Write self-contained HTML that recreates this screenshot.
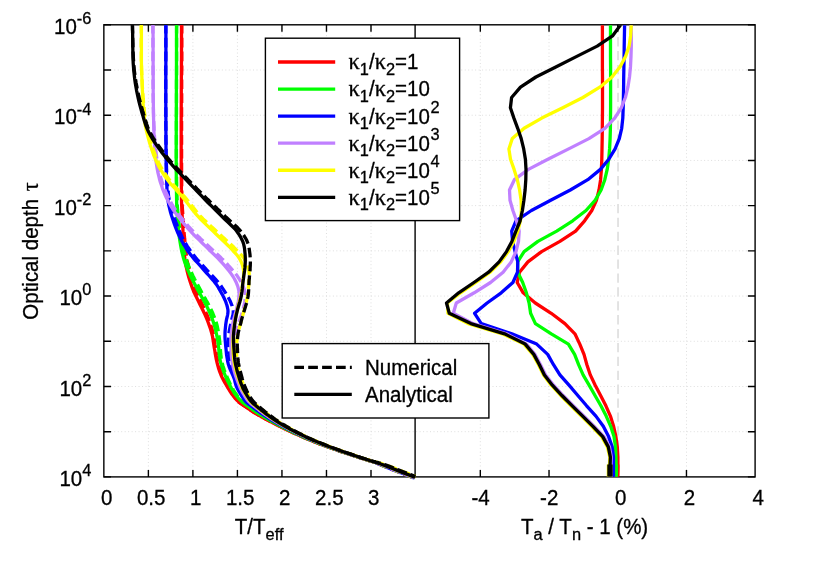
<!DOCTYPE html>
<html lang="en"><head><meta charset="utf-8"><title>Temperature profiles</title>
<style>html,body{margin:0;padding:0;background:#fff;}svg{display:block;font-family:"Liberation Sans",sans-serif;will-change:transform;}text{font-family:"Liberation Sans",sans-serif;font-size:20.5px;fill:#000;stroke:#000;stroke-width:0.3px;}.sy{font-family:"Liberation Serif",serif;font-size:22.3px;}.s{font-size:16.4px;}</style></head><body>
<svg width="830" height="581" viewBox="0 0 830 581">
<rect x="0" y="0" width="830" height="581" fill="#ffffff"/>
<path d="M103.85,70.01 H755.1 M103.85,115.22 H755.1 M103.85,160.43 H755.1 M103.85,205.64 H755.1 M103.85,250.85 H755.1 M103.85,296.06 H755.1 M103.85,341.27 H755.1 M103.85,386.48 H755.1 M103.85,431.69 H755.1 M148.38,24.8 V476.9 M192.90,24.8 V476.9 M237.42,24.8 V476.9 M281.95,24.8 V476.9 M326.48,24.8 V476.9 M371.00,24.8 V476.9 M480.31,24.8 V476.9 M549.03,24.8 V476.9 M686.47,24.8 V476.9" fill="none" stroke="#dedede" stroke-width="1" stroke-dasharray="1 2.47"/>
<path d="M618.05,24.8 V476.9" fill="none" stroke="#e2e2e2" stroke-width="1.9" stroke-dasharray="9.3 4.6" stroke-dashoffset="1.6"/>
<path d="M103.85,24.80 h7.2 M755.1,24.80 h-7.2 M103.85,70.01 h7.2 M755.1,70.01 h-7.2 M103.85,115.22 h7.2 M755.1,115.22 h-7.2 M103.85,160.43 h7.2 M755.1,160.43 h-7.2 M103.85,205.64 h7.2 M755.1,205.64 h-7.2 M103.85,250.85 h7.2 M755.1,250.85 h-7.2 M103.85,296.06 h7.2 M755.1,296.06 h-7.2 M103.85,341.27 h7.2 M755.1,341.27 h-7.2 M103.85,386.48 h7.2 M755.1,386.48 h-7.2 M103.85,431.69 h7.2 M755.1,431.69 h-7.2 M103.85,476.90 h7.2 M755.1,476.90 h-7.2 M148.38,476.9 v-7 M148.38,24.8 v7 M192.90,476.9 v-7 M192.90,24.8 v7 M237.42,476.9 v-7 M237.42,24.8 v7 M281.95,476.9 v-7 M281.95,24.8 v7 M326.48,476.9 v-7 M326.48,24.8 v7 M371.00,476.9 v-7 M371.00,24.8 v7 M480.31,476.9 v-7 M480.31,24.8 v7 M549.03,476.9 v-7 M549.03,24.8 v7 M617.75,476.9 v-7 M617.75,24.8 v7 M686.47,476.9 v-7 M686.47,24.8 v7" fill="none" stroke="#000" stroke-width="1.4"/>
<rect x="103.85" y="24.8" width="651.25" height="452.09999999999997" fill="none" stroke="#000" stroke-width="1.4"/>
<path d="M415.1,24.8 V476.9" stroke="#000" stroke-width="1.4" fill="none"/>
<clipPath id="cl"><rect x="103.85" y="25.2" width="311.95" height="454.49999999999994"/></clipPath>
<clipPath id="cr"><rect x="415.1" y="25.2" width="340.0" height="451.2"/></clipPath>
<g clip-path="url(#cl)" fill="none" stroke-width="3.3" stroke-linejoin="round">
<path d="M181.8,23.8 L181.8,25.3 L181.8,26.8 L181.8,28.3 L181.8,29.8 L181.8,31.3 L181.8,32.8 L181.8,34.3 L181.8,35.8 L181.8,37.3 L181.8,38.8 L181.8,40.3 L181.8,41.8 L181.8,43.3 L181.8,44.8 L181.8,46.3 L181.8,47.8 L181.8,49.3 L181.8,50.8 L181.8,52.3 L181.8,53.8 L181.8,55.3 L181.8,56.8 L181.8,58.3 L181.8,59.8 L181.8,61.3 L181.8,62.8 L181.8,64.3 L181.8,65.8 L181.8,67.3 L181.8,68.8 L181.8,70.3 L181.7,71.8 L181.7,73.3 L181.7,74.8 L181.7,76.3 L181.7,77.8 L181.7,79.3 L181.7,80.8 L181.7,82.3 L181.7,83.8 L181.7,85.3 L181.7,86.8 L181.7,88.3 L181.7,89.8 L181.7,91.3 L181.7,92.8 L181.7,94.3 L181.7,95.8 L181.7,97.3 L181.7,98.8 L181.7,100.3 L181.7,101.8 L181.7,103.3 L181.6,104.8 L181.6,106.3 L181.6,107.8 L181.6,109.3 L181.6,110.8 L181.6,112.3 L181.6,113.8 L181.6,115.3 L181.6,116.8 L181.6,118.3 L181.6,119.8 L181.6,121.3 L181.6,122.8 L181.6,124.3 L181.6,125.8 L181.6,127.3 L181.6,128.8 L181.6,130.3 L181.6,131.8 L181.6,133.3 L181.6,134.8 L181.6,136.3 L181.6,137.8 L181.6,139.3 L181.6,140.8 L181.6,142.3 L181.6,143.8 L181.6,145.3 L181.6,146.8 L181.6,148.3 L181.6,149.8 L181.6,151.3 L181.6,152.8 L181.6,154.3 L181.6,155.8 L181.6,157.3 L181.6,158.8 L181.6,160.3 L181.6,161.8 L181.6,163.3 L181.6,164.8 L181.6,166.3 L181.6,167.8 L181.6,169.3 L181.6,170.8 L181.6,172.3 L181.6,173.8 L181.6,175.3 L181.6,176.8 L181.6,178.3 L181.7,179.8 L181.7,181.3 L181.7,182.8 L181.7,184.3 L181.7,185.8 L181.8,187.3 L181.8,188.8 L181.8,190.3 L181.8,191.8 L181.9,193.3 L181.9,194.8 L181.9,196.3 L182.0,197.8 L182.0,199.3 L182.0,200.8 L182.1,202.3 L182.1,203.8 L182.2,205.3 L182.3,206.8 L182.4,208.3 L182.5,209.8 L182.6,211.3 L182.7,212.8 L182.8,214.3 L182.9,215.8 L183.0,217.3 L183.1,218.8 L183.2,220.3 L183.3,221.8 L183.4,223.3 L183.5,224.8 L183.6,226.3 L183.7,227.8 L183.8,229.3 L183.9,230.8 L184.1,232.3 L184.2,233.8 L184.3,235.3 L184.5,236.8 L184.6,238.3 L184.8,239.8 L184.9,241.3 L185.1,242.8 L185.2,244.3 L185.3,245.8 L185.5,247.3 L185.6,248.8 L185.8,250.3 L185.9,251.8 L186.1,253.3 L186.3,254.8 L186.5,256.3 L186.7,257.8 L187.0,259.3 L187.2,260.8 L187.5,262.3 L187.8,263.8 L188.2,265.3 L188.5,266.8 L188.9,268.3 L189.2,269.8 L189.6,271.3 L190.0,272.8 L190.5,274.3 L190.9,275.8 L191.4,277.3 L191.8,278.8 L192.3,280.3 L192.8,281.8 L193.3,283.3 L193.8,284.8 L194.3,286.3 L194.9,287.8 L195.4,289.3 L196.0,290.8 L196.7,292.3 L197.3,293.8 L198.0,295.3 L198.7,296.8 L199.5,298.3 L200.2,299.8 L200.9,301.3 L201.5,302.8 L202.2,304.3 L202.9,305.8 L203.6,307.3 L204.3,308.8 L205.0,310.3 L205.6,311.8 L206.3,313.3 L206.9,314.8 L207.6,316.3 L208.2,317.8 L208.7,319.3 L209.3,320.8 L209.8,322.3 L210.3,323.8 L210.8,325.3 L211.3,326.8 L211.8,328.3 L212.2,329.8 L212.6,331.3 L213.0,332.8 L213.4,334.3 L213.7,335.8 L214.0,337.3 L214.2,338.8 L214.4,340.3 L214.6,341.8 L214.8,343.3 L215.0,344.8 L215.3,346.3 L215.5,347.8 L215.7,349.3 L215.9,350.8 L216.2,352.3 L216.4,353.8 L216.6,355.3 L216.9,356.8 L217.2,358.3 L217.5,359.8 L217.8,361.3 L218.1,362.8 L218.5,364.3 L218.9,365.8 L219.3,367.3 L219.8,368.8 L220.2,370.3 L220.7,371.8 L221.3,373.3 L221.9,374.8 L222.5,376.3 L223.2,377.8 L223.9,379.3 L224.7,380.8 L225.6,382.3 L226.4,383.8 L227.3,385.3 L228.1,386.8 L229.0,388.3 L229.8,389.8 L230.7,391.3 L231.7,392.8 L232.7,394.3 L233.8,395.8 L235.0,397.3 L236.2,398.8 L237.6,400.3 L239.0,401.7 L240.1,402.7 L241.3,403.6 L242.5,404.5 L243.7,405.3 L245.0,406.2 L246.2,407.0 L247.4,407.9 L248.6,408.7 L249.9,409.5 L251.1,410.4 L252.3,411.2 L253.6,412.0 L254.9,412.8 L256.2,413.6 L257.6,414.4 L258.9,415.2 L260.3,415.9 L261.6,416.7 L262.8,417.4 L264.1,418.1 L265.3,418.8 L266.6,419.5 L267.8,420.1 L269.1,420.8 L270.4,421.5 L271.6,422.1 L272.9,422.8 L274.2,423.4 L275.5,424.1 L276.7,424.7 L278.0,425.3 L279.2,426.0 L280.4,426.6 L281.6,427.2 L282.9,427.9 L284.1,428.5 L285.5,429.2 L286.9,429.8 L288.3,430.5 L289.7,431.1 L291.1,431.8 L292.5,432.4 L293.6,433.0 L294.8,433.5 L296.0,434.0 L297.1,434.6 L298.2,435.1 L299.4,435.6 L300.6,436.1 L301.8,436.6 L303.0,437.2 L304.2,437.7 L305.4,438.2 L306.7,438.7 L308.1,439.3 L309.5,439.9 L310.9,440.4 L312.3,441.0 L313.8,441.6 L315.2,442.2 L316.7,442.8 L318.1,443.3 L319.5,443.9 L321.0,444.4 L322.5,445.0 L324.1,445.6 L326.6,446.5 L329.4,447.5 L332.2,448.5 L335.2,449.5 L338.2,450.6 L341.2,451.6 L344.6,452.7 L348.2,453.9 L351.9,455.1 L355.5,456.3 L358.8,457.4 L361.8,458.3 L363.5,458.8 L365.0,459.3 L366.4,459.7 L367.7,460.1 L369.1,460.6 L370.5,461.0 L372.0,461.4 L373.2,461.9 L374.5,462.4 L375.9,462.9 L377.5,463.5 L379.2,464.3 L383.6,466.2 L389.0,468.4 L395.2,470.8 L401.6,473.3 L408.1,475.8 L414.3,478.2" stroke="#ff0000" stroke-dasharray="9.7 4.2"/>
<path d="M181.5,23.5 L181.5,55.0 L181.3,88.9 L181.2,122.8 L181.2,154.3 L181.3,180.9 L181.5,200.0 L181.6,204.3 L181.8,207.9 L181.9,210.9 L182.1,213.6 L182.2,216.3 L182.4,219.3 L182.6,222.5 L182.7,225.7 L182.9,229.0 L183.0,232.2 L183.2,235.4 L183.4,238.6 L183.6,241.8 L183.7,245.1 L183.9,248.4 L184.1,251.7 L184.4,254.8 L184.7,257.8 L185.0,260.2 L185.4,262.4 L185.7,264.6 L186.2,266.8 L186.7,269.0 L187.2,271.3 L187.9,274.1 L188.7,277.1 L189.6,280.0 L190.6,283.0 L191.6,285.9 L192.6,288.7 L193.5,291.0 L194.5,293.2 L195.6,295.4 L196.6,297.5 L197.7,299.7 L198.8,302.0 L200.1,304.7 L201.5,307.5 L202.9,310.3 L204.3,313.2 L205.6,316.1 L206.8,318.9 L207.8,321.5 L208.8,324.1 L209.7,326.7 L210.6,329.3 L211.3,331.8 L212.0,334.3 L212.5,336.3 L212.8,338.2 L213.1,340.1 L213.4,342.0 L213.7,344.0 L214.0,346.0 L214.4,348.5 L214.9,351.2 L215.3,354.0 L215.8,356.7 L216.3,359.4 L216.9,362.0 L217.5,364.3 L218.1,366.5 L218.7,368.7 L219.4,370.8 L220.2,372.9 L221.0,375.0 L221.9,377.0 L222.9,379.0 L223.9,380.9 L225.0,382.8 L226.1,384.6 L227.1,386.4 L227.9,387.9 L228.8,389.2 L229.6,390.6 L230.4,391.9 L231.3,393.2 L232.2,394.5 L233.2,395.8 L234.1,397.0 L235.1,398.3 L236.2,399.5 L237.3,400.6 L238.4,401.7 L239.5,402.7 L240.7,403.6 L242.0,404.5 L243.2,405.3 L244.5,406.2 L245.7,407.0 L247.0,407.9 L248.2,408.7 L249.4,409.5 L250.7,410.4 L251.9,411.2 L253.2,412.0 L254.5,412.8 L255.9,413.6 L257.2,414.4 L258.6,415.2 L259.9,415.9 L261.2,416.7 L262.5,417.4 L263.8,418.1 L265.0,418.8 L266.3,419.5 L267.5,420.1 L268.8,420.8 L270.1,421.5 L271.4,422.1 L272.7,422.8 L273.9,423.4 L275.2,424.1 L276.5,424.7 L277.7,425.3 L279.0,426.0 L280.2,426.6 L281.4,427.2 L282.7,427.9 L284.0,428.5 L285.3,429.2 L286.7,429.8 L288.1,430.5 L289.6,431.1 L290.9,431.8 L292.3,432.4 L293.5,433.0 L294.7,433.5 L295.8,434.0 L297.0,434.6 L298.1,435.1 L299.3,435.6 L300.5,436.1 L301.7,436.6 L302.9,437.2 L304.1,437.7 L305.3,438.2 L306.6,438.7 L308.0,439.3 L309.4,439.9 L310.8,440.4 L312.3,441.0 L313.7,441.6 L315.2,442.2 L316.6,442.8 L318.0,443.3 L319.4,443.9 L320.9,444.4 L322.4,445.0 L324.1,445.6 L326.6,446.5 L329.3,447.5 L332.2,448.5 L335.2,449.5 L338.2,450.6 L341.2,451.6 L344.6,452.7 L348.2,453.9 L351.9,455.1 L355.5,456.3 L358.8,457.4 L361.8,458.3 L363.5,458.8 L365.0,459.3 L366.4,459.7 L367.8,460.1 L369.1,460.6 L370.5,461.0 L372.0,461.4 L373.3,461.8 L374.7,462.2 L376.1,462.7 L377.7,463.2 L379.5,463.8 L384.0,465.4 L389.5,467.5 L395.7,469.9 L402.1,472.4 L408.6,474.9 L414.7,477.3" stroke="#ff0000"/>
<path d="M176.7,23.8 L176.7,25.3 L176.7,26.8 L176.6,28.3 L176.6,29.8 L176.6,31.3 L176.6,32.8 L176.6,34.3 L176.6,35.8 L176.6,37.3 L176.6,38.8 L176.6,40.3 L176.6,41.8 L176.6,43.3 L176.6,44.8 L176.6,46.3 L176.6,47.8 L176.6,49.3 L176.6,50.8 L176.6,52.3 L176.6,53.8 L176.6,55.3 L176.6,56.8 L176.6,58.3 L176.6,59.8 L176.6,61.3 L176.6,62.8 L176.6,64.3 L176.6,65.8 L176.6,67.3 L176.6,68.8 L176.6,70.3 L176.6,71.8 L176.6,73.3 L176.6,74.8 L176.6,76.3 L176.6,77.8 L176.6,79.3 L176.5,80.8 L176.5,82.3 L176.5,83.8 L176.5,85.3 L176.5,86.8 L176.5,88.3 L176.5,89.8 L176.5,91.3 L176.5,92.8 L176.5,94.3 L176.5,95.8 L176.5,97.3 L176.5,98.8 L176.5,100.3 L176.5,101.8 L176.5,103.3 L176.5,104.8 L176.5,106.3 L176.5,107.8 L176.5,109.3 L176.5,110.8 L176.5,112.3 L176.5,113.8 L176.4,115.3 L176.4,116.8 L176.4,118.3 L176.4,119.8 L176.4,121.3 L176.4,122.8 L176.4,124.3 L176.4,125.8 L176.4,127.3 L176.4,128.8 L176.4,130.3 L176.4,131.8 L176.4,133.3 L176.4,134.8 L176.4,136.3 L176.4,137.8 L176.4,139.3 L176.4,140.8 L176.4,142.3 L176.4,143.8 L176.4,145.3 L176.4,146.8 L176.4,148.3 L176.4,149.8 L176.4,151.3 L176.4,152.8 L176.4,154.3 L176.4,155.8 L176.4,157.3 L176.4,158.8 L176.5,160.3 L176.5,161.8 L176.5,163.3 L176.5,164.8 L176.5,166.3 L176.5,167.8 L176.5,169.3 L176.5,170.8 L176.5,172.3 L176.6,173.8 L176.6,175.3 L176.6,176.8 L176.6,178.3 L176.6,179.8 L176.6,181.3 L176.7,182.8 L176.7,184.3 L176.7,185.8 L176.8,187.3 L176.8,188.8 L176.8,190.3 L176.9,191.8 L176.9,193.3 L176.9,194.8 L177.0,196.3 L177.0,197.8 L177.1,199.3 L177.1,200.8 L177.2,202.3 L177.3,203.8 L177.3,205.3 L177.4,206.8 L177.5,208.3 L177.6,209.8 L177.8,211.3 L177.9,212.8 L178.0,214.3 L178.2,215.8 L178.3,217.3 L178.5,218.8 L178.6,220.3 L178.8,221.8 L179.0,223.3 L179.2,224.8 L179.3,226.3 L179.5,227.8 L179.7,229.3 L179.9,230.8 L180.1,232.3 L180.3,233.8 L180.6,235.3 L180.8,236.8 L181.1,238.3 L181.4,239.8 L181.7,241.3 L182.0,242.8 L182.3,244.3 L182.7,245.8 L183.0,247.3 L183.3,248.8 L183.7,250.3 L184.0,251.8 L184.5,253.3 L184.9,254.8 L185.3,256.3 L185.7,257.8 L186.2,259.3 L186.7,260.8 L187.2,262.3 L187.8,263.8 L188.4,265.3 L189.0,266.8 L189.6,268.3 L190.2,269.8 L190.9,271.3 L191.6,272.8 L192.2,274.3 L192.9,275.8 L193.7,277.3 L194.4,278.8 L195.2,280.3 L196.0,281.8 L196.8,283.3 L197.7,284.8 L198.5,286.3 L199.3,287.8 L200.1,289.3 L200.9,290.8 L201.7,292.3 L202.6,293.8 L203.4,295.3 L204.2,296.8 L205.1,298.3 L205.9,299.8 L206.8,301.3 L207.6,302.8 L208.4,304.3 L209.2,305.8 L210.0,307.3 L210.7,308.8 L211.4,310.3 L212.1,311.8 L212.8,313.3 L213.4,314.8 L214.0,316.3 L214.6,317.8 L215.2,319.3 L215.7,320.8 L216.2,322.3 L216.6,323.8 L217.0,325.3 L217.4,326.8 L217.7,328.3 L218.0,329.8 L218.3,331.3 L218.5,332.8 L218.7,334.3 L219.0,335.8 L219.2,337.3 L219.4,338.8 L219.6,340.3 L219.7,341.8 L219.9,343.3 L220.0,344.8 L220.1,346.3 L220.3,347.8 L220.4,349.3 L220.5,350.8 L220.6,352.3 L220.7,353.8 L220.9,355.3 L221.1,356.8 L221.2,358.3 L221.5,359.8 L221.8,361.3 L222.1,362.8 L222.5,364.3 L222.9,365.8 L223.4,367.3 L223.9,368.8 L224.4,370.3 L225.0,371.8 L225.6,373.3 L226.1,374.8 L226.8,376.3 L227.4,377.8 L228.0,379.3 L228.7,380.8 L229.4,382.3 L230.1,383.8 L230.9,385.3 L231.7,386.8 L232.5,388.3 L233.3,389.8 L234.2,391.3 L235.1,392.8 L236.2,394.3 L237.3,395.8 L238.5,397.3 L239.8,398.8 L241.3,400.3 L242.7,401.7 L243.8,402.7 L244.9,403.6 L246.1,404.5 L247.3,405.3 L248.4,406.2 L249.6,407.0 L250.8,407.9 L251.9,408.7 L253.1,409.5 L254.3,410.4 L255.5,411.2 L256.6,412.0 L257.9,412.8 L259.1,413.6 L260.4,414.4 L261.6,415.2 L262.9,415.9 L264.1,416.7 L265.3,417.4 L266.5,418.1 L267.7,418.8 L268.8,419.5 L270.0,420.1 L271.2,420.8 L272.4,421.5 L273.6,422.1 L274.8,422.8 L276.0,423.4 L277.3,424.1 L278.5,424.7 L279.7,425.3 L280.9,426.0 L282.0,426.6 L283.2,427.2 L284.4,427.9 L285.7,428.5 L287.0,429.2 L288.3,429.8 L289.7,430.5 L291.1,431.1 L292.4,431.8 L293.7,432.4 L294.9,433.0 L296.0,433.5 L297.2,434.0 L298.3,434.6 L299.4,435.1 L300.5,435.6 L301.7,436.1 L302.9,436.6 L304.0,437.2 L305.2,437.7 L306.4,438.2 L307.6,438.7 L309.0,439.3 L310.4,439.9 L311.8,440.5 L313.3,441.0 L314.7,441.6 L316.1,442.2 L317.5,442.8 L318.9,443.3 L320.3,443.9 L321.8,444.4 L323.3,445.0 L324.9,445.6 L327.4,446.5 L330.1,447.5 L332.9,448.5 L335.8,449.5 L338.8,450.6 L341.8,451.6 L345.2,452.7 L348.8,453.9 L352.4,455.1 L356.0,456.3 L359.3,457.4 L362.2,458.3 L363.9,458.8 L365.4,459.3 L366.8,459.7 L368.1,460.1 L369.5,460.6 L370.9,461.0 L372.3,461.4 L373.6,461.9 L374.9,462.4 L376.2,462.9 L377.7,463.6 L379.5,464.3 L383.8,466.2 L389.3,468.4 L395.4,470.8 L401.8,473.3 L408.3,475.8 L414.4,478.2" stroke="#00ff00" stroke-dasharray="9.7 4.2"/>
<path d="M176.5,23.5 L176.5,55.0 L176.4,88.9 L176.3,122.8 L176.2,154.3 L176.3,180.9 L176.6,200.0 L176.7,204.3 L176.9,207.9 L177.0,210.9 L177.2,213.6 L177.4,216.3 L177.6,219.3 L177.8,222.5 L178.1,225.7 L178.4,229.0 L178.7,232.2 L179.1,235.4 L179.5,238.6 L180.0,241.8 L180.6,245.1 L181.2,248.4 L181.8,251.6 L182.6,254.7 L183.4,257.8 L184.2,260.5 L185.1,263.1 L186.0,265.6 L187.0,268.1 L188.1,270.6 L189.2,273.2 L190.5,276.1 L192.0,279.0 L193.5,281.9 L195.1,284.8 L196.6,287.7 L198.2,290.6 L199.8,293.5 L201.4,296.4 L203.0,299.3 L204.6,302.2 L206.2,305.1 L207.6,308.0 L208.8,310.7 L210.0,313.3 L211.1,316.0 L212.1,318.6 L213.1,321.3 L214.0,324.0 L214.8,326.8 L215.5,329.5 L216.1,332.3 L216.7,335.2 L217.3,338.0 L217.8,341.0 L218.3,344.4 L218.7,348.0 L219.0,351.7 L219.4,355.3 L219.9,358.8 L220.5,362.0 L221.1,364.4 L221.8,366.6 L222.6,368.8 L223.3,370.9 L224.2,373.0 L225.0,375.0 L225.8,376.9 L226.6,378.8 L227.5,380.7 L228.4,382.5 L229.3,384.3 L230.2,386.0 L231.0,387.5 L231.8,389.0 L232.7,390.4 L233.5,391.8 L234.4,393.2 L235.4,394.5 L236.4,395.8 L237.4,397.0 L238.5,398.3 L239.6,399.5 L240.8,400.6 L241.9,401.7 L243.0,402.7 L244.2,403.6 L245.4,404.5 L246.5,405.3 L247.7,406.2 L248.9,407.0 L250.1,407.9 L251.3,408.7 L252.4,409.5 L253.6,410.4 L254.8,411.2 L256.0,412.0 L257.3,412.8 L258.5,413.6 L259.8,414.4 L261.1,415.2 L262.3,415.9 L263.6,416.7 L264.8,417.4 L266.0,418.1 L267.2,418.8 L268.4,419.5 L269.5,420.1 L270.7,420.8 L272.0,421.5 L273.2,422.1 L274.4,422.8 L275.6,423.4 L276.8,424.1 L278.1,424.7 L279.3,425.3 L280.5,426.0 L281.7,426.6 L282.9,427.2 L284.1,427.9 L285.3,428.5 L286.6,429.2 L288.0,429.8 L289.4,430.5 L290.8,431.1 L292.1,431.8 L293.4,432.4 L294.6,433.0 L295.8,433.5 L296.9,434.0 L298.0,434.6 L299.1,435.1 L300.3,435.6 L301.5,436.1 L302.6,436.6 L303.8,437.2 L305.0,437.7 L306.2,438.2 L307.5,438.7 L308.8,439.3 L310.2,439.9 L311.6,440.5 L313.1,441.0 L314.5,441.6 L315.9,442.2 L317.4,442.8 L318.8,443.3 L320.2,443.9 L321.6,444.4 L323.1,445.0 L324.7,445.6 L327.2,446.5 L329.9,447.5 L332.8,448.5 L335.7,449.5 L338.7,450.6 L341.7,451.6 L345.0,452.7 L348.6,453.9 L352.3,455.1 L355.8,456.3 L359.1,457.4 L362.1,458.3 L363.7,458.8 L365.2,459.3 L366.6,459.7 L368.0,460.1 L369.3,460.6 L370.7,461.0 L372.2,461.4 L373.5,461.8 L374.8,462.2 L376.2,462.7 L377.8,463.2 L379.6,463.8 L384.2,465.4 L389.6,467.5 L395.8,469.9 L402.2,472.4 L408.6,474.9 L414.8,477.3" stroke="#00ff00"/>
<path d="M165.8,23.8 L165.8,25.3 L165.8,26.8 L165.8,28.3 L165.8,29.8 L165.8,31.3 L165.8,32.8 L165.8,34.3 L165.8,35.8 L165.8,37.3 L165.8,38.8 L165.8,40.3 L165.8,41.8 L165.8,43.3 L165.8,44.8 L165.8,46.3 L165.8,47.8 L165.8,49.3 L165.8,50.8 L165.8,52.3 L165.8,53.8 L165.8,55.3 L165.8,56.8 L165.8,58.3 L165.8,59.8 L165.7,61.3 L165.7,62.8 L165.7,64.3 L165.7,65.8 L165.7,67.3 L165.7,68.8 L165.7,70.3 L165.7,71.8 L165.7,73.3 L165.7,74.8 L165.7,76.3 L165.7,77.8 L165.7,79.3 L165.7,80.8 L165.7,82.3 L165.7,83.8 L165.7,85.3 L165.7,86.8 L165.7,88.3 L165.7,89.8 L165.7,91.3 L165.7,92.8 L165.7,94.3 L165.7,95.8 L165.7,97.3 L165.7,98.8 L165.7,100.3 L165.7,101.8 L165.8,103.3 L165.8,104.8 L165.8,106.3 L165.8,107.8 L165.8,109.3 L165.8,110.8 L165.8,112.3 L165.8,113.8 L165.8,115.3 L165.8,116.8 L165.8,118.3 L165.8,119.8 L165.8,121.3 L165.8,122.8 L165.8,124.3 L165.8,125.8 L165.9,127.3 L165.9,128.8 L165.9,130.3 L165.9,131.8 L165.9,133.3 L165.9,134.8 L165.9,136.3 L165.9,137.8 L165.9,139.3 L165.9,140.8 L166.0,142.3 L166.0,143.8 L166.0,145.3 L166.0,146.8 L166.0,148.3 L166.1,149.8 L166.1,151.3 L166.1,152.8 L166.1,154.3 L166.2,155.8 L166.2,157.3 L166.2,158.8 L166.3,160.3 L166.3,161.8 L166.4,163.3 L166.4,164.8 L166.5,166.3 L166.5,167.8 L166.6,169.3 L166.6,170.8 L166.7,172.3 L166.8,173.8 L166.9,175.3 L167.0,176.8 L167.0,178.3 L167.2,179.8 L167.3,181.3 L167.4,182.8 L167.5,184.3 L167.6,185.8 L167.7,187.3 L167.8,188.8 L168.0,190.3 L168.1,191.8 L168.3,193.3 L168.4,194.8 L168.6,196.3 L168.9,197.8 L169.1,199.3 L169.4,200.8 L169.7,202.3 L170.0,203.8 L170.4,205.3 L170.7,206.8 L171.1,208.3 L171.6,209.8 L172.0,211.3 L172.5,212.8 L173.0,214.3 L173.5,215.8 L174.1,217.3 L174.6,218.8 L175.2,220.3 L175.7,221.8 L176.3,223.3 L176.9,224.8 L177.4,226.3 L178.0,227.8 L178.7,229.3 L179.3,230.8 L179.9,232.3 L180.6,233.8 L181.3,235.3 L182.0,236.8 L182.8,238.3 L183.6,239.8 L184.4,241.3 L185.3,242.8 L186.2,244.3 L187.1,245.8 L188.1,247.3 L189.0,248.8 L190.1,250.3 L191.1,251.8 L192.2,253.3 L193.4,254.8 L194.6,256.3 L195.8,257.8 L197.1,259.3 L198.5,260.8 L199.8,262.3 L201.2,263.8 L202.6,265.3 L204.0,266.8 L205.4,268.3 L206.7,269.8 L208.1,271.3 L209.5,272.8 L210.9,274.3 L212.4,275.8 L213.8,277.3 L215.2,278.8 L216.5,280.3 L217.8,281.8 L219.0,283.3 L220.2,284.8 L221.3,286.3 L222.3,287.8 L223.3,289.3 L224.3,290.8 L225.2,292.3 L226.1,293.8 L227.0,295.3 L227.9,296.8 L228.7,298.3 L229.5,299.8 L230.3,301.3 L230.9,302.8 L231.5,304.3 L232.1,305.8 L232.5,307.3 L232.9,308.8 L233.2,310.3 L233.3,311.8 L233.2,313.3 L233.0,314.8 L232.6,316.3 L232.2,317.8 L231.8,319.3 L231.5,320.8 L231.2,322.3 L230.9,323.8 L230.5,325.3 L230.1,326.8 L229.8,328.3 L229.5,329.8 L229.2,331.3 L229.0,332.8 L228.8,334.3 L228.7,335.8 L228.6,337.3 L228.5,338.8 L228.5,340.3 L228.4,341.8 L228.4,343.3 L228.5,344.8 L228.6,346.3 L228.7,347.8 L228.8,349.3 L228.9,350.8 L229.0,352.3 L229.1,353.8 L229.2,355.3 L229.4,356.8 L229.6,358.3 L229.8,359.8 L230.1,361.3 L230.4,362.8 L230.8,364.3 L231.2,365.8 L231.7,367.3 L232.3,368.8 L232.9,370.3 L233.5,371.8 L234.2,373.3 L234.8,374.8 L235.4,376.3 L236.0,377.8 L236.5,379.3 L236.8,380.8 L237.1,382.3 L237.4,383.8 L237.8,385.3 L238.4,386.8 L239.1,388.3 L239.8,389.8 L240.6,391.3 L241.4,392.8 L242.3,394.3 L243.2,395.8 L244.1,397.3 L245.1,398.8 L246.2,400.3 L247.4,401.7 L248.4,402.7 L249.4,403.6 L250.5,404.5 L251.6,405.3 L252.8,406.2 L253.9,407.0 L255.0,407.9 L256.1,408.7 L257.1,409.5 L258.2,410.4 L259.4,411.2 L260.5,412.0 L261.6,412.8 L262.7,413.6 L263.9,414.4 L265.1,415.2 L266.2,415.9 L267.4,416.7 L268.4,417.4 L269.5,418.1 L270.6,418.8 L271.7,419.5 L272.8,420.1 L273.9,420.8 L275.0,421.5 L276.1,422.1 L277.2,422.8 L278.4,423.4 L279.5,424.1 L280.7,424.7 L281.8,425.3 L283.0,426.0 L284.1,426.6 L285.3,427.2 L286.4,427.9 L287.6,428.5 L288.9,429.2 L290.2,429.8 L291.5,430.5 L292.8,431.1 L294.1,431.8 L295.4,432.4 L296.5,433.0 L297.6,433.5 L298.7,434.0 L299.8,434.6 L300.9,435.1 L302.0,435.6 L303.2,436.1 L304.3,436.6 L305.4,437.2 L306.6,437.7 L307.8,438.2 L308.9,438.7 L310.3,439.3 L311.7,439.9 L313.0,440.5 L314.4,441.0 L315.9,441.6 L317.3,442.2 L318.7,442.8 L320.0,443.3 L321.4,443.9 L322.8,444.4 L324.3,445.0 L325.9,445.6 L328.3,446.5 L331.0,447.5 L333.8,448.5 L336.7,449.5 L339.6,450.6 L342.5,451.6 L345.9,452.7 L349.4,453.9 L353.0,455.1 L356.5,456.3 L359.8,457.4 L362.7,458.3 L364.4,458.8 L365.9,459.3 L367.2,459.7 L368.6,460.1 L369.9,460.6 L371.3,461.0 L372.7,461.5 L374.0,461.9 L375.3,462.4 L376.6,463.0 L378.1,463.6 L379.9,464.3 L384.2,466.2 L389.6,468.4 L395.7,470.8 L402.2,473.3 L408.6,475.8 L414.7,478.2" stroke="#0000ff" stroke-dasharray="9.7 4.2"/>
<path d="M165.9,23.5 L165.9,39.9 L165.9,56.6 L165.8,73.3 L165.8,89.7 L165.8,105.3 L165.9,120.0 L165.9,130.8 L166.0,141.2 L166.0,151.3 L166.1,160.8 L166.2,169.7 L166.5,177.8 L166.7,182.6 L166.9,187.1 L167.1,191.3 L167.4,195.2 L167.8,199.1 L168.4,202.9 L169.0,206.2 L169.8,209.4 L170.6,212.5 L171.5,215.5 L172.5,218.5 L173.5,221.5 L174.5,224.4 L175.6,227.3 L176.7,230.2 L177.9,233.1 L179.2,235.9 L180.5,238.6 L181.9,241.3 L183.4,243.9 L185.0,246.5 L186.6,249.1 L188.3,251.6 L190.1,254.0 L191.9,256.3 L193.8,258.6 L195.7,260.8 L197.7,263.0 L199.7,265.2 L201.7,267.5 L204.0,270.1 L206.4,272.8 L208.9,275.5 L211.2,278.1 L213.4,280.6 L215.2,282.9 L216.2,284.2 L217.0,285.4 L217.8,286.6 L218.5,287.7 L219.1,288.9 L219.8,290.0 L220.4,291.1 L221.0,292.2 L221.6,293.3 L222.2,294.3 L222.8,295.4 L223.3,296.5 L223.8,297.5 L224.3,298.5 L224.7,299.4 L225.2,300.4 L225.6,301.4 L226.0,302.5 L226.4,303.8 L226.9,305.2 L227.3,306.7 L227.6,308.2 L227.9,309.7 L228.0,311.2 L227.9,312.8 L227.7,314.3 L227.4,315.9 L227.0,317.5 L226.6,319.1 L226.3,320.8 L226.0,322.7 L225.7,324.7 L225.5,326.8 L225.3,328.8 L225.1,330.9 L225.0,333.0 L225.0,335.1 L225.0,337.2 L225.1,339.3 L225.3,341.5 L225.5,343.7 L225.7,346.0 L226.0,348.9 L226.3,351.9 L226.6,355.0 L227.1,358.1 L227.6,361.1 L228.3,364.0 L229.1,366.6 L230.1,369.2 L231.3,371.8 L232.4,374.2 L233.4,376.6 L234.2,378.7 L234.6,380.0 L234.9,381.3 L235.2,382.5 L235.5,383.6 L235.8,384.8 L236.2,386.0 L236.8,387.4 L237.5,388.9 L238.3,390.3 L239.1,391.7 L240.0,393.1 L240.8,394.5 L241.6,395.8 L242.4,397.0 L243.2,398.3 L244.1,399.5 L245.0,400.6 L245.9,401.7 L247.0,402.7 L248.0,403.6 L249.1,404.5 L250.3,405.3 L251.4,406.2 L252.6,407.0 L253.7,407.9 L254.8,408.7 L255.9,409.5 L257.0,410.4 L258.2,411.2 L259.3,412.0 L260.4,412.8 L261.6,413.6 L262.8,414.4 L264.0,415.2 L265.2,415.9 L266.3,416.7 L267.4,417.4 L268.5,418.1 L269.6,418.8 L270.7,419.5 L271.9,420.1 L273.0,420.8 L274.1,421.5 L275.3,422.1 L276.4,422.8 L277.6,423.4 L278.7,424.1 L279.9,424.7 L281.0,425.3 L282.2,426.0 L283.3,426.6 L284.5,427.2 L285.7,427.9 L286.9,428.5 L288.2,429.2 L289.5,429.8 L290.8,430.5 L292.1,431.1 L293.5,431.8 L294.7,432.4 L295.9,433.0 L297.0,433.5 L298.1,434.0 L299.2,434.6 L300.3,435.1 L301.4,435.6 L302.6,436.1 L303.7,436.6 L304.9,437.2 L306.1,437.7 L307.2,438.2 L308.4,438.7 L309.8,439.3 L311.2,439.9 L312.6,440.5 L314.0,441.0 L315.4,441.6 L316.8,442.2 L318.2,442.8 L319.6,443.3 L321.0,443.9 L322.4,444.4 L323.9,445.0 L325.5,445.6 L327.9,446.5 L330.6,447.5 L333.4,448.5 L336.3,449.5 L339.2,450.6 L342.2,451.6 L345.5,452.7 L349.1,453.9 L352.7,455.1 L356.2,456.3 L359.5,457.4 L362.4,458.3 L364.0,458.8 L365.5,459.3 L366.9,459.7 L368.2,460.1 L369.6,460.6 L371.0,461.0 L372.4,461.4 L373.7,461.8 L375.0,462.2 L376.4,462.7 L378.0,463.2 L379.8,463.8 L384.3,465.4 L389.7,467.5 L395.8,469.9 L402.3,472.4 L408.7,474.9 L414.8,477.3" stroke="#0000ff"/>
<path d="M152.8,23.8 L152.8,25.3 L152.8,26.8 L152.8,28.3 L152.8,29.8 L152.8,31.3 L152.9,32.8 L152.9,34.3 L152.9,35.8 L152.9,37.3 L152.9,38.8 L152.9,40.3 L152.9,41.8 L152.9,43.3 L152.9,44.8 L152.9,46.3 L152.9,47.8 L152.9,49.3 L152.9,50.8 L152.9,52.3 L152.9,53.8 L152.9,55.3 L152.9,56.8 L152.9,58.3 L152.9,59.8 L152.9,61.3 L152.9,62.8 L153.0,64.3 L153.0,65.8 L153.0,67.3 L153.0,68.8 L153.0,70.3 L153.0,71.8 L153.0,73.3 L153.0,74.8 L153.0,76.3 L153.0,77.8 L153.0,79.3 L153.0,80.8 L153.0,82.3 L153.0,83.8 L153.1,85.3 L153.1,86.8 L153.1,88.3 L153.1,89.8 L153.1,91.3 L153.1,92.8 L153.1,94.3 L153.1,95.8 L153.2,97.3 L153.2,98.8 L153.2,100.3 L153.2,101.8 L153.3,103.3 L153.3,104.8 L153.3,106.3 L153.3,107.8 L153.4,109.3 L153.4,110.8 L153.4,112.3 L153.5,113.8 L153.5,115.3 L153.6,116.8 L153.6,118.3 L153.7,119.8 L153.7,121.3 L153.8,122.8 L153.8,124.3 L153.9,125.8 L154.0,127.3 L154.0,128.8 L154.1,130.3 L154.2,131.8 L154.3,133.3 L154.4,134.8 L154.5,136.3 L154.6,137.8 L154.7,139.3 L154.8,140.8 L155.0,142.3 L155.1,143.8 L155.2,145.3 L155.4,146.8 L155.6,148.3 L155.7,149.8 L155.9,151.3 L156.1,152.8 L156.3,154.3 L156.5,155.8 L156.7,157.3 L156.9,158.8 L157.1,160.3 L157.3,161.8 L157.6,163.3 L157.8,164.8 L158.1,166.3 L158.4,167.8 L158.7,169.3 L159.0,170.8 L159.4,172.3 L159.8,173.8 L160.1,175.3 L160.6,176.8 L161.0,178.3 L161.5,179.8 L161.9,181.3 L162.4,182.8 L162.9,184.3 L163.4,185.8 L164.0,187.3 L164.5,188.8 L165.1,190.3 L165.8,191.8 L166.4,193.3 L167.1,194.8 L167.8,196.3 L168.5,197.8 L169.2,199.3 L170.0,200.8 L170.9,202.3 L171.7,203.8 L172.6,205.3 L173.5,206.8 L174.5,208.3 L175.5,209.8 L176.5,211.3 L177.6,212.8 L178.7,214.3 L179.8,215.8 L181.0,217.3 L182.2,218.8 L183.4,220.3 L184.7,221.8 L185.9,223.3 L187.2,224.8 L188.5,226.3 L189.9,227.8 L191.3,229.3 L192.7,230.8 L194.1,232.3 L195.6,233.8 L197.1,235.3 L198.6,236.8 L200.2,238.3 L201.7,239.8 L203.3,241.3 L204.9,242.8 L206.5,244.3 L208.1,245.8 L209.7,247.3 L211.3,248.8 L212.9,250.3 L214.5,251.8 L216.1,253.3 L217.8,254.8 L219.4,256.3 L221.0,257.8 L222.5,259.3 L224.1,260.8 L225.5,262.3 L227.0,263.8 L228.3,265.3 L229.7,266.8 L231.0,268.3 L232.3,269.8 L233.6,271.3 L234.8,272.8 L236.0,274.3 L237.2,275.8 L238.2,277.3 L239.2,278.8 L240.1,280.3 L241.0,281.8 L241.8,283.3 L242.5,284.8 L243.1,286.3 L243.7,287.8 L244.2,289.3 L244.6,290.8 L244.9,292.3 L245.1,293.8 L245.1,295.3 L245.1,296.8 L245.1,298.3 L245.0,299.8 L244.9,301.3 L244.7,302.8 L244.3,304.3 L244.0,305.8 L243.6,307.3 L243.2,308.8 L242.8,310.3 L242.5,311.8 L242.0,313.3 L241.5,314.8 L240.9,316.3 L240.4,317.8 L239.9,319.3 L239.4,320.8 L238.9,322.3 L238.4,323.8 L237.9,325.3 L237.4,326.8 L237.0,328.3 L236.5,329.8 L236.1,331.3 L235.7,332.8 L235.5,334.3 L235.2,335.8 L235.0,337.3 L234.7,338.8 L234.6,340.3 L234.4,341.8 L234.3,343.3 L234.2,344.8 L234.2,346.3 L234.2,347.8 L234.2,349.3 L234.3,350.8 L234.3,352.3 L234.4,353.8 L234.4,355.3 L234.5,356.8 L234.7,358.3 L234.9,359.8 L235.1,361.3 L235.3,362.8 L235.5,364.3 L235.8,365.8 L236.2,367.3 L236.5,368.8 L236.9,370.3 L237.3,371.8 L237.7,373.3 L238.2,374.8 L238.6,376.3 L239.1,377.8 L239.6,379.3 L240.1,380.8 L240.6,382.3 L241.1,383.8 L241.7,385.3 L242.3,386.8 L242.9,388.3 L243.6,389.8 L244.3,391.3 L245.1,392.8 L246.0,394.3 L246.8,395.8 L247.7,397.3 L248.7,398.8 L249.7,400.3 L250.9,401.7 L251.8,402.7 L252.8,403.6 L253.9,404.5 L254.9,405.3 L256.0,406.2 L257.1,407.0 L258.1,407.9 L259.1,408.7 L260.2,409.5 L261.2,410.4 L262.3,411.2 L263.4,412.0 L264.4,412.8 L265.5,413.6 L266.6,414.4 L267.7,415.2 L268.8,415.9 L269.9,416.7 L270.9,417.4 L271.9,418.1 L272.9,418.8 L273.9,419.5 L275.0,420.1 L276.0,420.8 L277.1,421.5 L278.1,422.1 L279.2,422.8 L280.3,423.4 L281.4,424.1 L282.4,424.7 L283.5,425.3 L284.6,426.0 L285.8,426.6 L286.9,427.2 L288.0,427.9 L289.1,428.5 L290.4,429.2 L291.6,429.8 L292.9,430.5 L294.2,431.1 L295.4,431.8 L296.7,432.4 L297.8,433.0 L298.8,433.5 L299.9,434.0 L301.0,434.6 L302.0,435.1 L303.1,435.6 L304.2,436.1 L305.3,436.6 L306.5,437.2 L307.6,437.7 L308.7,438.2 L309.9,438.7 L311.2,439.3 L312.6,439.9 L314.0,440.5 L315.3,441.0 L316.7,441.6 L318.1,442.2 L319.5,442.8 L320.8,443.3 L322.2,443.9 L323.6,444.4 L325.0,445.0 L326.6,445.6 L329.0,446.5 L331.6,447.5 L334.4,448.5 L337.2,449.5 L340.1,450.6 L343.0,451.6 L346.4,452.7 L349.9,453.9 L353.5,455.1 L357.0,456.3 L360.2,457.4 L363.1,458.3 L364.7,458.8 L366.2,459.3 L367.6,459.7 L368.9,460.1 L370.3,460.6 L371.7,461.0 L373.1,461.5 L374.3,462.0 L375.6,462.4 L376.9,463.0 L378.4,463.6 L380.2,464.3 L384.5,466.2 L389.9,468.4 L396.0,470.8 L402.4,473.3 L408.8,475.8 L414.9,478.2" stroke="#c080ff" stroke-dasharray="9.7 4.2"/>
<path d="M153.0,23.5 L153.1,40.2 L153.1,57.8 L153.2,75.3 L153.2,92.0 L153.4,107.2 L153.6,120.0 L153.8,125.8 L153.9,131.0 L154.1,135.7 L154.3,140.1 L154.6,144.5 L154.9,148.9 L155.2,152.9 L155.6,156.9 L156.0,160.8 L156.5,164.6 L157.1,168.3 L157.8,172.0 L158.6,175.4 L159.4,178.7 L160.3,182.0 L161.4,185.1 L162.4,188.3 L163.6,191.3 L164.7,194.0 L165.9,196.7 L167.2,199.3 L168.5,201.8 L169.9,204.3 L171.3,206.7 L172.8,209.1 L174.3,211.4 L175.9,213.6 L177.6,215.8 L179.3,218.0 L181.0,220.2 L182.7,222.3 L184.5,224.4 L186.3,226.5 L188.1,228.6 L190.0,230.7 L192.0,232.8 L194.4,235.3 L196.9,237.9 L199.6,240.4 L202.2,243.0 L204.9,245.6 L207.5,248.2 L210.1,250.8 L212.8,253.3 L215.4,255.8 L218.0,258.4 L220.5,261.0 L222.9,263.6 L225.1,266.1 L227.2,268.7 L229.3,271.3 L231.2,273.9 L233.0,276.5 L234.5,279.0 L235.5,281.0 L236.4,282.9 L237.2,284.9 L237.9,286.8 L238.4,288.7 L238.8,290.6 L239.0,292.2 L239.1,293.8 L239.0,295.4 L238.9,297.0 L238.7,298.6 L238.5,300.2 L238.2,302.1 L237.8,304.0 L237.3,305.9 L236.8,307.9 L236.3,309.8 L235.8,311.8 L235.3,313.8 L234.7,315.8 L234.2,317.7 L233.6,319.8 L233.1,321.8 L232.7,324.0 L232.2,326.6 L231.8,329.3 L231.4,332.2 L231.1,335.0 L230.9,338.0 L230.8,341.0 L230.8,344.6 L230.9,348.4 L231.1,352.3 L231.4,356.3 L231.9,360.2 L232.5,364.0 L233.4,367.8 L234.4,371.8 L235.6,375.7 L236.9,379.5 L238.2,383.0 L239.4,386.0 L240.1,387.7 L240.8,389.2 L241.5,390.6 L242.3,391.9 L243.0,393.2 L243.8,394.5 L244.6,395.8 L245.4,397.0 L246.2,398.3 L247.0,399.5 L247.9,400.6 L248.8,401.7 L249.8,402.7 L250.8,403.6 L251.9,404.5 L253.0,405.3 L254.1,406.2 L255.1,407.0 L256.2,407.9 L257.3,408.7 L258.4,409.5 L259.4,410.4 L260.5,411.2 L261.6,412.0 L262.7,412.8 L263.8,413.6 L264.9,414.4 L266.0,415.2 L267.1,415.9 L268.2,416.7 L269.3,417.4 L270.3,418.1 L271.4,418.8 L272.4,419.5 L273.5,420.1 L274.6,420.8 L275.6,421.5 L276.7,422.1 L277.8,422.8 L278.9,423.4 L280.0,424.1 L281.1,424.7 L282.3,425.3 L283.4,426.0 L284.5,426.6 L285.7,427.2 L286.8,427.9 L288.0,428.5 L289.2,429.2 L290.5,429.8 L291.8,430.5 L293.1,431.1 L294.4,431.8 L295.7,432.4 L296.8,433.0 L297.9,433.5 L299.0,434.0 L300.1,434.6 L301.2,435.1 L302.3,435.6 L303.4,436.1 L304.5,436.6 L305.7,437.2 L306.8,437.7 L308.0,438.2 L309.2,438.7 L310.5,439.3 L311.9,439.9 L313.2,440.5 L314.6,441.0 L316.0,441.6 L317.4,442.2 L318.8,442.8 L320.2,443.3 L321.5,443.9 L322.9,444.4 L324.4,445.0 L326.0,445.6 L328.4,446.5 L331.1,447.5 L333.8,448.5 L336.7,449.5 L339.6,450.6 L342.6,451.6 L345.9,452.7 L349.4,453.9 L353.0,455.1 L356.5,456.3 L359.7,457.4 L362.6,458.3 L364.2,458.8 L365.7,459.3 L367.1,459.7 L368.4,460.1 L369.8,460.6 L371.1,461.0 L372.5,461.4 L373.8,461.8 L375.2,462.2 L376.6,462.7 L378.1,463.2 L379.9,463.8 L384.4,465.4 L389.8,467.5 L395.9,469.9 L402.3,472.4 L408.7,474.9 L414.8,477.3" stroke="#c080ff"/>
<path d="M141.3,23.8 L141.3,25.3 L141.3,26.8 L141.3,28.3 L141.3,29.8 L141.3,31.3 L141.3,32.8 L141.3,34.3 L141.3,35.8 L141.3,37.3 L141.3,38.8 L141.2,40.3 L141.2,41.8 L141.2,43.3 L141.2,44.8 L141.2,46.3 L141.2,47.8 L141.3,49.3 L141.3,50.8 L141.3,52.3 L141.3,53.8 L141.3,55.3 L141.3,56.8 L141.3,58.3 L141.3,59.8 L141.4,61.3 L141.4,62.8 L141.4,64.3 L141.5,65.8 L141.5,67.3 L141.6,68.8 L141.6,70.3 L141.7,71.8 L141.7,73.3 L141.8,74.8 L141.9,76.3 L141.9,77.8 L142.0,79.3 L142.1,80.8 L142.2,82.3 L142.2,83.8 L142.3,85.3 L142.4,86.8 L142.5,88.3 L142.6,89.8 L142.7,91.3 L142.8,92.8 L142.9,94.3 L143.0,95.8 L143.1,97.3 L143.2,98.8 L143.4,100.3 L143.5,101.8 L143.6,103.3 L143.7,104.8 L143.9,106.3 L144.0,107.8 L144.2,109.3 L144.3,110.8 L144.5,112.3 L144.7,113.8 L144.8,115.3 L145.0,116.8 L145.2,118.3 L145.4,119.8 L145.6,121.3 L145.8,122.8 L146.1,124.3 L146.4,125.8 L146.8,127.3 L147.1,128.8 L147.5,130.3 L147.9,131.8 L148.3,133.3 L148.8,134.8 L149.2,136.3 L149.6,137.8 L150.1,139.3 L150.5,140.8 L151.0,142.3 L151.4,143.8 L151.9,145.3 L152.4,146.8 L152.9,148.3 L153.4,149.8 L153.9,151.3 L154.5,152.8 L155.0,154.3 L155.6,155.8 L156.2,157.3 L156.9,158.8 L157.5,160.3 L158.2,161.8 L158.9,163.3 L159.7,164.8 L160.5,166.3 L161.4,167.8 L162.3,169.3 L163.2,170.8 L164.1,172.3 L165.1,173.8 L166.2,175.3 L167.2,176.8 L168.3,178.3 L169.4,179.8 L170.6,181.3 L171.8,182.8 L173.1,184.3 L174.4,185.8 L175.8,187.3 L177.2,188.8 L178.6,190.3 L180.1,191.8 L181.5,193.3 L182.8,194.8 L184.2,196.3 L185.5,197.8 L186.7,199.3 L187.9,200.8 L189.1,202.3 L190.3,203.8 L191.5,205.3 L192.7,206.8 L193.9,208.3 L195.1,209.8 L196.3,211.3 L197.6,212.8 L198.9,214.3 L200.2,215.8 L201.7,217.3 L203.1,218.8 L204.6,220.3 L206.2,221.8 L207.8,223.3 L209.4,224.8 L211.0,226.3 L212.7,227.8 L214.3,229.3 L215.9,230.8 L217.6,232.3 L219.2,233.8 L220.8,235.3 L222.4,236.8 L224.1,238.3 L225.7,239.8 L227.4,241.3 L229.1,242.8 L230.7,244.3 L232.3,245.8 L233.9,247.3 L235.4,248.8 L236.9,250.3 L238.3,251.8 L239.8,253.3 L241.2,254.8 L242.4,256.3 L243.6,257.8 L244.6,259.3 L245.5,260.8 L246.3,262.3 L246.9,263.8 L247.5,265.3 L248.0,266.8 L248.4,268.3 L248.7,269.8 L249.0,271.3 L249.1,272.8 L249.2,274.3 L249.2,275.8 L249.1,277.3 L249.0,278.8 L248.9,280.3 L248.9,281.8 L248.8,283.3 L248.7,284.8 L248.6,286.3 L248.4,287.8 L248.3,289.3 L248.1,290.8 L247.9,292.3 L247.7,293.8 L247.5,295.3 L247.3,296.8 L247.0,298.3 L246.8,299.8 L246.5,301.3 L246.1,302.8 L245.7,304.3 L245.3,305.8 L244.9,307.3 L244.5,308.8 L244.1,310.3 L243.7,311.8 L243.4,313.3 L242.9,314.8 L242.5,316.3 L242.0,317.8 L241.6,319.3 L241.2,320.8 L240.8,322.3 L240.4,323.8 L240.0,325.3 L239.6,326.8 L239.2,328.3 L238.8,329.8 L238.4,331.3 L238.1,332.8 L237.8,334.3 L237.5,335.8 L237.3,337.3 L237.1,338.8 L237.0,340.3 L236.8,341.8 L236.7,343.3 L236.6,344.8 L236.6,346.3 L236.6,347.8 L236.5,349.3 L236.6,350.8 L236.6,352.3 L236.6,353.8 L236.7,355.3 L236.8,356.8 L236.9,358.3 L237.0,359.8 L237.2,361.3 L237.4,362.8 L237.7,364.3 L238.0,365.8 L238.2,367.3 L238.6,368.8 L239.0,370.3 L239.3,371.8 L239.8,373.3 L240.2,374.8 L240.6,376.3 L241.1,377.8 L241.5,379.3 L242.0,380.8 L242.5,382.3 L243.1,383.8 L243.6,385.3 L244.2,386.8 L244.8,388.3 L245.5,389.8 L246.3,391.3 L247.1,392.8 L247.9,394.3 L248.8,395.8 L249.7,397.3 L250.6,398.8 L251.7,400.3 L252.8,401.7 L253.7,402.7 L254.7,403.6 L255.7,404.5 L256.8,405.3 L257.8,406.2 L258.8,407.0 L259.9,407.9 L260.9,408.7 L261.9,409.5 L262.9,410.4 L263.9,411.2 L265.0,412.0 L266.0,412.8 L267.0,413.6 L268.1,414.4 L269.1,415.2 L270.2,415.9 L271.2,416.7 L272.2,417.4 L273.2,418.1 L274.2,418.8 L275.2,419.5 L276.2,420.1 L277.2,420.8 L278.2,421.5 L279.2,422.1 L280.2,422.8 L281.3,423.4 L282.3,424.1 L283.4,424.7 L284.5,425.3 L285.6,426.0 L286.6,426.6 L287.7,427.2 L288.9,427.9 L290.0,428.5 L291.2,429.2 L292.4,429.8 L293.7,430.5 L294.9,431.1 L296.2,431.8 L297.4,432.4 L298.5,433.0 L299.5,433.5 L300.6,434.0 L301.7,434.6 L302.7,435.1 L303.8,435.6 L304.9,436.1 L306.0,436.6 L307.1,437.2 L308.2,437.7 L309.3,438.2 L310.5,438.7 L311.8,439.3 L313.1,439.9 L314.5,440.5 L315.9,441.0 L317.3,441.6 L318.6,442.2 L320.0,442.8 L321.3,443.3 L322.7,443.9 L324.0,444.4 L325.5,445.0 L327.1,445.6 L329.5,446.5 L332.1,447.5 L334.8,448.5 L337.6,449.5 L340.5,450.6 L343.4,451.6 L346.7,452.7 L350.2,453.9 L353.8,455.1 L357.2,456.3 L360.5,457.4 L363.4,458.3 L365.0,458.8 L366.5,459.3 L367.8,459.7 L369.2,460.1 L370.5,460.6 L371.9,461.0 L373.3,461.4 L374.6,461.7 L376.0,462.1 L377.4,462.4 L379.0,462.9 L380.8,463.4 L385.4,464.8 L390.9,466.8 L397.0,469.2 L403.4,471.7 L409.8,474.2 L415.9,476.6" stroke="#ffff00" stroke-dasharray="9.7 4.2"/>
<path d="M141.4,23.5 L141.4,31.3 L141.4,39.0 L141.4,46.8 L141.4,54.5 L141.4,62.3 L141.6,70.0 L141.9,77.9 L142.2,86.2 L142.6,94.4 L143.0,102.3 L143.5,109.4 L144.0,115.4 L144.3,118.1 L144.5,120.3 L144.8,122.4 L145.1,124.4 L145.5,126.5 L146.0,129.0 L147.1,133.6 L148.5,138.9 L150.1,144.5 L152.0,150.2 L153.9,155.6 L155.9,160.5 L157.6,164.1 L159.4,167.5 L161.3,170.7 L163.3,173.8 L165.3,176.8 L167.5,179.8 L169.8,182.8 L172.3,185.7 L174.9,188.5 L177.5,191.3 L180.1,194.2 L182.6,197.1 L185.1,200.2 L187.5,203.3 L190.0,206.5 L192.4,209.7 L194.9,212.8 L197.6,215.9 L200.5,219.0 L203.6,222.1 L206.7,225.1 L209.8,228.1 L213.0,231.1 L216.0,234.0 L218.9,236.8 L221.8,239.6 L224.7,242.3 L227.5,245.0 L230.2,247.6 L232.5,250.1 L234.0,251.8 L235.5,253.4 L236.9,255.0 L238.1,256.5 L239.2,258.1 L240.2,259.8 L241.0,261.4 L241.7,263.1 L242.3,264.8 L242.8,266.5 L243.2,268.2 L243.5,270.0 L243.7,271.8 L243.7,273.6 L243.6,275.3 L243.4,277.2 L243.2,279.1 L243.0,281.0 L242.7,283.4 L242.4,286.0 L242.0,288.6 L241.6,291.2 L241.1,293.8 L240.6,296.4 L240.0,299.0 L239.4,301.6 L238.7,304.2 L238.0,306.8 L237.4,309.3 L236.8,311.8 L236.3,313.9 L235.9,315.9 L235.5,317.9 L235.2,319.8 L234.8,321.9 L234.5,324.0 L234.1,326.6 L233.8,329.4 L233.5,332.2 L233.3,335.0 L233.1,338.0 L233.0,341.0 L233.0,344.6 L233.0,348.4 L233.2,352.3 L233.5,356.3 L233.9,360.2 L234.5,364.0 L235.3,367.8 L236.3,371.8 L237.5,375.7 L238.8,379.5 L240.0,383.0 L241.2,386.0 L241.9,387.7 L242.6,389.2 L243.3,390.6 L244.1,391.9 L244.8,393.2 L245.6,394.5 L246.4,395.8 L247.2,397.0 L248.0,398.3 L248.8,399.5 L249.7,400.6 L250.6,401.7 L251.6,402.7 L252.6,403.6 L253.6,404.5 L254.7,405.3 L255.7,406.2 L256.8,407.0 L257.8,407.9 L258.9,408.7 L259.9,409.5 L261.0,410.4 L262.0,411.2 L263.1,412.0 L264.1,412.8 L265.2,413.6 L266.3,414.4 L267.3,415.2 L268.4,415.9 L269.5,416.7 L270.5,417.4 L271.5,418.1 L272.5,418.8 L273.5,419.5 L274.5,420.1 L275.6,420.8 L276.6,421.5 L277.7,422.1 L278.7,422.8 L279.8,423.4 L280.9,424.1 L282.0,424.7 L283.1,425.3 L284.2,426.0 L285.3,426.6 L286.4,427.2 L287.5,427.9 L288.7,428.5 L289.9,429.2 L291.2,429.8 L292.5,430.5 L293.8,431.1 L295.0,431.8 L296.2,432.4 L297.4,433.0 L298.4,433.5 L299.5,434.0 L300.6,434.6 L301.7,435.1 L302.8,435.6 L303.9,436.1 L305.0,436.6 L306.1,437.2 L307.3,437.7 L308.4,438.2 L309.6,438.7 L310.9,439.3 L312.3,439.9 L313.7,440.5 L315.0,441.0 L316.4,441.6 L317.8,442.2 L319.2,442.8 L320.6,443.3 L321.9,443.9 L323.3,444.4 L324.8,445.0 L326.4,445.6 L328.8,446.5 L331.4,447.5 L334.1,448.5 L337.0,449.5 L339.9,450.6 L342.8,451.6 L346.1,452.7 L349.6,453.9 L353.2,455.1 L356.6,456.3 L359.9,457.4 L362.7,458.3 L364.4,458.8 L365.8,459.3 L367.2,459.7 L368.5,460.1 L369.9,460.6 L371.3,461.0 L372.6,461.4 L373.9,461.8 L375.3,462.2 L376.6,462.7 L378.2,463.2 L380.0,463.8 L384.4,465.4 L389.9,467.5 L395.9,469.9 L402.3,472.4 L408.7,474.9 L414.8,477.3" stroke="#ffff00"/>
<path d="M132.4,23.8 L132.4,25.3 L132.5,26.8 L132.5,28.3 L132.5,29.8 L132.6,31.3 L132.6,32.8 L132.6,34.3 L132.7,35.8 L132.7,37.3 L132.7,38.8 L132.8,40.3 L132.8,41.8 L132.9,43.3 L132.9,44.8 L132.9,46.3 L133.0,47.8 L133.0,49.3 L133.1,50.8 L133.1,52.3 L133.2,53.8 L133.3,55.3 L133.3,56.8 L133.4,58.3 L133.5,59.8 L133.6,61.3 L133.7,62.8 L133.8,64.3 L133.9,65.8 L134.1,67.3 L134.2,68.8 L134.3,70.3 L134.5,71.8 L134.7,73.3 L134.9,74.8 L135.1,76.3 L135.3,77.8 L135.5,79.3 L135.8,80.8 L136.0,82.3 L136.3,83.8 L136.6,85.3 L136.9,86.8 L137.1,88.3 L137.4,89.8 L137.8,91.3 L138.1,92.8 L138.4,94.3 L138.7,95.8 L139.1,97.3 L139.4,98.8 L139.8,100.3 L140.2,101.8 L140.6,103.3 L140.9,104.8 L141.4,106.3 L141.8,107.8 L142.2,109.3 L142.6,110.8 L143.1,112.3 L143.5,113.8 L144.0,115.3 L144.4,116.8 L144.9,118.3 L145.3,119.8 L145.8,121.3 L146.3,122.8 L146.7,124.3 L147.3,125.8 L147.8,127.3 L148.4,128.8 L149.1,130.3 L149.8,131.8 L150.6,133.3 L151.5,134.8 L152.3,136.3 L153.2,137.8 L154.2,139.3 L155.1,140.8 L156.1,142.3 L157.2,143.8 L158.2,145.3 L159.3,146.8 L160.4,148.3 L161.5,149.8 L162.6,151.3 L163.7,152.8 L164.9,154.3 L166.1,155.8 L167.3,157.3 L168.5,158.8 L169.8,160.3 L171.1,161.8 L172.5,163.3 L173.9,164.8 L175.3,166.3 L176.7,167.8 L178.2,169.3 L179.6,170.8 L181.1,172.3 L182.5,173.8 L184.0,175.3 L185.4,176.8 L186.9,178.3 L188.3,179.8 L189.8,181.3 L191.2,182.8 L192.7,184.3 L194.2,185.8 L195.7,187.3 L197.1,188.8 L198.6,190.3 L200.1,191.8 L201.6,193.3 L203.1,194.8 L204.6,196.3 L206.1,197.8 L207.6,199.3 L209.2,200.8 L210.7,202.3 L212.2,203.8 L213.8,205.3 L215.3,206.8 L216.9,208.3 L218.4,209.8 L220.0,211.3 L221.5,212.8 L223.1,214.3 L224.7,215.8 L226.2,217.3 L227.8,218.8 L229.4,220.3 L231.0,221.8 L232.7,223.3 L234.4,224.8 L236.1,226.3 L237.7,227.8 L239.1,229.3 L240.4,230.8 L241.6,232.3 L242.7,233.8 L243.8,235.3 L244.7,236.8 L245.6,238.3 L246.4,239.8 L247.1,241.3 L247.7,242.8 L248.2,244.3 L248.6,245.8 L248.9,247.3 L249.2,248.8 L249.4,250.3 L249.6,251.8 L249.8,253.3 L250.0,254.8 L250.1,256.3 L250.2,257.8 L250.3,259.3 L250.3,260.8 L250.4,262.3 L250.3,263.8 L250.3,265.3 L250.2,266.8 L250.1,268.3 L250.1,269.8 L249.9,271.3 L249.8,272.8 L249.7,274.3 L249.5,275.8 L249.4,277.3 L249.3,278.8 L249.1,280.3 L249.0,281.8 L249.0,283.3 L248.9,284.8 L248.8,286.3 L248.8,287.8 L248.7,289.3 L248.6,290.8 L248.5,292.3 L248.4,293.8 L248.2,295.3 L248.0,296.8 L247.7,298.3 L247.4,299.8 L247.1,301.3 L246.7,302.8 L246.2,304.3 L245.7,305.8 L245.3,307.3 L244.8,308.8 L244.4,310.3 L243.9,311.8 L243.5,313.3 L243.0,314.8 L242.6,316.3 L242.1,317.8 L241.7,319.3 L241.3,320.8 L241.0,322.3 L240.6,323.8 L240.1,325.3 L239.7,326.8 L239.3,328.3 L238.9,329.8 L238.6,331.3 L238.2,332.8 L238.0,334.3 L237.8,335.8 L237.6,337.3 L237.5,338.8 L237.4,340.3 L237.3,341.8 L237.3,343.3 L237.3,344.8 L237.3,346.3 L237.4,347.8 L237.5,349.3 L237.5,350.8 L237.6,352.3 L237.7,353.8 L237.7,355.3 L237.8,356.8 L237.9,358.3 L238.0,359.8 L238.2,361.3 L238.4,362.8 L238.7,364.3 L239.0,365.8 L239.3,367.3 L239.6,368.8 L240.0,370.3 L240.4,371.8 L240.8,373.3 L241.2,374.8 L241.6,376.3 L242.0,377.8 L242.4,379.3 L242.9,380.8 L243.4,382.3 L243.9,383.8 L244.4,385.3 L244.9,386.8 L245.6,388.3 L246.3,389.8 L247.0,391.3 L247.8,392.8 L248.7,394.3 L249.5,395.8 L250.4,397.3 L251.4,398.8 L252.4,400.3 L253.6,401.7 L254.5,402.7 L255.4,403.6 L256.4,404.5 L257.5,405.3 L258.5,406.2 L259.5,407.0 L260.5,407.9 L261.5,408.7 L262.5,409.5 L263.5,410.4 L264.5,411.2 L265.5,412.0 L266.6,412.8 L267.6,413.6 L268.6,414.4 L269.6,415.2 L270.7,415.9 L271.7,416.7 L272.7,417.4 L273.6,418.1 L274.6,418.8 L275.6,419.5 L276.5,420.1 L277.5,420.8 L278.5,421.5 L279.6,422.1 L280.6,422.8 L281.6,423.4 L282.6,424.1 L283.7,424.7 L284.8,425.3 L285.8,426.0 L286.9,426.6 L288.0,427.2 L289.1,427.9 L290.2,428.5 L291.4,429.2 L292.7,429.8 L293.9,430.5 L295.1,431.1 L296.4,431.8 L297.6,432.4 L298.7,433.0 L299.7,433.5 L300.8,434.0 L301.8,434.6 L302.9,435.1 L303.9,435.6 L305.0,436.1 L306.1,436.6 L307.2,437.2 L308.3,437.7 L309.5,438.2 L310.6,438.7 L311.9,439.3 L313.3,439.9 L314.6,440.5 L316.0,441.0 L317.4,441.6 L318.7,442.2 L320.1,442.8 L321.4,443.3 L322.8,443.9 L324.1,444.4 L325.6,445.0 L327.2,445.6 L329.5,446.5 L332.1,447.5 L334.9,448.5 L337.7,449.5 L340.6,450.6 L343.4,451.6 L346.7,452.7 L350.2,453.9 L353.8,455.1 L357.3,456.3 L360.5,457.4 L363.4,458.3 L365.0,458.8 L366.5,459.3 L367.9,459.7 L369.2,460.1 L370.5,460.6 L371.9,461.0 L373.3,461.4 L374.6,461.7 L376.0,462.1 L377.4,462.4 L379.0,462.9 L380.8,463.4 L385.4,464.8 L390.8,466.8 L396.9,469.2 L403.3,471.7 L409.7,474.2 L415.8,476.6" stroke="#000000" stroke-dasharray="9.7 4.2"/>
<path d="M132.4,23.5 L132.6,31.4 L132.7,39.5 L132.8,47.7 L132.9,55.6 L133.2,63.1 L133.7,70.0 L134.2,74.7 L134.7,79.0 L135.3,83.2 L136.0,87.2 L136.7,91.1 L137.5,95.0 L138.3,98.6 L139.1,102.1 L140.0,105.5 L140.9,108.9 L141.8,112.2 L142.8,115.4 L143.6,118.3 L144.4,121.0 L145.3,123.7 L146.2,126.4 L147.3,129.1 L148.6,132.0 L150.7,135.9 L153.2,140.1 L156.0,144.3 L159.0,148.6 L162.0,152.7 L165.0,156.6 L167.8,160.0 L170.6,163.2 L173.4,166.4 L176.3,169.5 L179.3,172.6 L182.4,175.9 L186.0,179.7 L189.7,183.7 L193.6,187.7 L197.4,191.7 L201.3,195.7 L205.0,199.5 L208.4,203.0 L211.9,206.4 L215.3,209.9 L218.6,213.2 L221.8,216.3 L224.8,219.3 L227.0,221.4 L229.1,223.3 L231.1,225.2 L233.0,227.0 L234.8,228.8 L236.4,230.8 L237.8,232.7 L239.1,234.6 L240.3,236.5 L241.3,238.4 L242.3,240.4 L243.1,242.4 L243.7,244.3 L244.1,246.2 L244.5,248.2 L244.7,250.1 L244.9,252.1 L245.1,254.0 L245.2,255.9 L245.3,257.8 L245.3,259.6 L245.3,261.5 L245.2,263.5 L245.1,265.5 L244.9,268.0 L244.6,270.5 L244.2,273.1 L243.8,275.8 L243.5,278.4 L243.1,281.0 L242.8,283.6 L242.5,286.1 L242.3,288.7 L242.0,291.3 L241.6,293.8 L241.2,296.4 L240.6,299.0 L239.9,301.7 L239.1,304.3 L238.3,306.9 L237.6,309.4 L237.0,311.8 L236.6,313.6 L236.2,315.3 L235.9,316.9 L235.6,318.5 L235.3,320.2 L235.0,322.0 L234.7,324.2 L234.4,326.6 L234.1,329.0 L233.8,331.4 L233.6,333.9 L233.5,336.3 L233.5,338.9 L233.5,341.5 L233.7,344.1 L233.8,346.7 L234.0,349.2 L234.2,351.7 L234.3,353.8 L234.5,355.8 L234.6,357.7 L234.8,359.7 L235.1,361.8 L235.5,364.0 L236.3,367.4 L237.2,371.3 L238.4,375.3 L239.6,379.2 L240.8,382.9 L242.0,386.0 L242.7,387.7 L243.4,389.2 L244.1,390.6 L244.9,391.9 L245.6,393.2 L246.4,394.5 L247.2,395.8 L248.0,397.0 L248.8,398.3 L249.6,399.5 L250.5,400.6 L251.4,401.7 L252.3,402.7 L253.3,403.6 L254.4,404.5 L255.4,405.3 L256.5,406.2 L257.5,407.0 L258.5,407.9 L259.6,408.7 L260.6,409.5 L261.6,410.4 L262.7,411.2 L263.7,412.0 L264.7,412.8 L265.8,413.6 L266.8,414.4 L267.9,415.2 L269.0,415.9 L270.0,416.7 L271.0,417.4 L272.0,418.1 L273.0,418.8 L274.0,419.5 L275.0,420.1 L276.0,420.8 L277.0,421.5 L278.1,422.1 L279.1,422.8 L280.2,423.4 L281.2,424.1 L282.3,424.7 L283.4,425.3 L284.5,426.0 L285.6,426.6 L286.7,427.2 L287.9,427.9 L289.0,428.5 L290.2,429.2 L291.5,429.8 L292.8,430.5 L294.0,431.1 L295.3,431.8 L296.5,432.4 L297.6,433.0 L298.7,433.5 L299.8,434.0 L300.8,434.6 L301.9,435.1 L303.0,435.6 L304.1,436.1 L305.2,436.6 L306.3,437.2 L307.5,437.7 L308.6,438.2 L309.8,438.7 L311.1,439.3 L312.5,439.9 L313.8,440.5 L315.2,441.0 L316.6,441.6 L318.0,442.2 L319.4,442.8 L320.7,443.3 L322.1,443.9 L323.4,444.4 L324.9,445.0 L326.5,445.6 L328.9,446.5 L331.5,447.5 L334.3,448.5 L337.1,449.5 L340.0,450.6 L342.9,451.6 L346.2,452.7 L349.7,453.9 L353.2,455.1 L356.7,456.3 L359.9,457.4 L362.8,458.3 L364.4,458.8 L365.9,459.3 L367.3,459.7 L368.6,460.1 L369.9,460.6 L371.3,461.0 L372.7,461.4 L374.0,461.8 L375.3,462.2 L376.7,462.7 L378.2,463.2 L380.0,463.8 L384.5,465.4 L389.9,467.5 L396.0,469.9 L402.3,472.4 L408.7,474.9 L414.8,477.3" stroke="#000000"/>
</g>
<g clip-path="url(#cr)" fill="none" stroke-width="3.3" stroke-linejoin="round">
<path d="M602.4,15.3 L602.4,25.6 L602.4,35.9 L602.4,46.1 L602.4,56.4 L602.4,66.7 L602.5,77.0 L602.5,87.2 L602.5,97.5 L602.5,107.8 L602.4,118.1 L602.3,128.3 L602.2,138.6 L602.0,148.9 L601.8,159.2 L601.4,169.4 L600.6,179.7 L599.0,190.0 L596.4,200.3 L591.8,210.5 L584.6,220.8 L575.6,231.1 L559.9,241.4 L541.6,251.6 L527.9,261.9 L519.5,272.2 L517.2,282.5 L523.2,292.8 L535.3,303.0 L551.2,313.3 L564.9,323.6 L574.9,333.8 L579.8,344.1 L584.0,354.4 L586.9,364.7 L590.3,374.9 L595.2,385.2 L600.6,395.5 L605.9,405.8 L610.4,416.1 L613.6,426.3 L615.9,436.6 L617.3,446.9 L617.9,457.1 L617.9,467.4 L617.5,477.7" stroke="#ff0000"/>
<path d="M617.5,464.6 V478" stroke="#ff0000" stroke-width="3.8"/>
<path d="M610.5,15.3 L610.5,25.6 L610.5,35.9 L610.5,46.1 L610.5,56.4 L610.6,66.7 L610.6,77.0 L610.6,87.2 L610.6,97.5 L610.6,107.8 L610.5,118.1 L610.4,128.3 L610.1,138.6 L609.6,148.9 L608.7,159.2 L607.2,169.4 L604.8,179.7 L601.1,190.0 L595.1,200.3 L586.0,210.5 L572.7,220.8 L556.7,231.1 L537.9,241.4 L524.1,251.6 L517.6,261.9 L517.7,272.2 L522.7,282.5 L526.4,292.8 L529.1,303.0 L530.6,313.3 L535.4,323.6 L551.3,333.8 L568.4,344.1 L574.6,354.4 L578.6,364.7 L583.1,374.9 L589.1,385.2 L595.0,395.5 L600.9,405.8 L606.2,416.1 L610.7,426.3 L614.0,436.6 L615.5,446.9 L616.0,457.1 L616.2,467.4 L616.2,477.7" stroke="#00ff00"/>
<path d="M616.2,464.6 V478" stroke="#00ff00" stroke-width="3.8"/>
<path d="M624.6,15.3 L624.6,25.6 L624.4,35.9 L624.2,46.1 L624.1,56.4 L623.9,66.7 L623.7,77.0 L623.6,87.2 L623.4,97.5 L623.2,107.8 L622.8,118.1 L621.7,128.3 L619.3,138.6 L615.1,148.9 L608.8,159.2 L600.4,169.4 L587.8,179.7 L570.3,190.0 L550.7,200.3 L531.4,210.5 L516.0,220.8 L511.7,231.1 L512.6,241.4 L515.1,251.6 L517.8,261.9 L517.5,272.2 L512.9,282.5 L501.2,292.8 L487.1,303.0 L474.6,313.3 L481.3,323.6 L511.8,333.8 L536.7,344.1 L547.7,354.4 L553.5,364.7 L559.9,374.9 L569.0,385.2 L577.8,395.5 L586.6,405.8 L595.9,416.1 L603.3,426.3 L608.6,436.6 L612.2,446.9 L613.5,457.1 L613.4,467.4 L613.2,477.7" stroke="#0000ff"/>
<path d="M613.2,464.6 V478" stroke="#0000ff" stroke-width="3.8"/>
<path d="M631.0,15.3 L631.0,25.6 L631.3,35.9 L631.3,46.1 L631.0,56.4 L630.5,66.7 L629.5,77.0 L627.9,87.2 L625.4,97.5 L621.3,107.8 L614.7,118.1 L604.9,128.3 L588.9,138.6 L568.7,148.9 L547.9,159.2 L528.4,169.4 L514.4,179.7 L509.5,190.0 L510.0,200.3 L512.9,210.5 L516.5,220.8 L519.2,231.1 L518.5,241.4 L516.0,251.6 L511.2,261.9 L503.1,272.2 L490.5,282.5 L474.2,292.8 L456.3,303.0 L453.3,313.3 L473.1,323.6 L506.6,333.8 L526.5,344.1 L534.9,354.4 L540.5,364.7 L545.6,374.9 L553.6,385.2 L563.1,395.5 L573.5,405.8 L583.9,416.1 L594.2,426.3 L603.9,436.6 L609.4,446.9 L611.3,457.1 L610.9,467.4 L610.9,477.7" stroke="#c080ff"/>
<path d="M610.9,464.6 V478" stroke="#c080ff" stroke-width="3.8"/>
<path d="M631.3,15.3 L631.2,25.6 L630.6,35.9 L629.1,46.1 L625.6,56.4 L620.1,66.7 L612.0,77.0 L599.8,87.2 L582.9,97.5 L562.8,107.8 L541.8,118.1 L524.1,128.3 L512.3,138.6 L508.9,148.9 L510.5,159.2 L514.1,169.4 L517.3,179.7 L519.6,190.0 L521.1,200.3 L521.4,210.5 L520.4,220.8 L517.8,231.1 L513.8,241.4 L508.2,251.6 L500.7,261.9 L490.1,272.2 L475.7,282.5 L460.5,292.8 L447.4,303.0 L448.0,313.3 L468.1,323.6 L502.4,333.8 L523.9,344.1 L532.8,354.4 L538.5,364.7 L543.5,374.9 L551.2,385.2 L560.7,395.5 L571.0,405.8 L581.4,416.1 L591.7,426.3 L601.6,436.6 L607.4,446.9 L609.8,457.1 L609.4,467.4 L609.4,477.7" stroke="#ffff00"/>
<path d="M609.4,464.6 V478" stroke="#ffff00" stroke-width="5.4"/>
<path d="M621.6,15.3 L620.1,25.6 L612.5,35.9 L597.2,46.1 L576.8,56.4 L556.3,66.7 L535.9,77.0 L520.5,87.2 L511.6,97.5 L510.4,107.8 L513.9,118.1 L517.7,128.3 L521.2,138.6 L523.7,148.9 L525.4,159.2 L526.0,169.4 L525.8,179.7 L525.1,190.0 L523.9,200.3 L522.4,210.5 L520.1,220.8 L515.9,231.1 L511.9,241.4 L506.5,251.6 L499.1,261.9 L488.6,272.2 L473.9,282.5 L458.7,292.8 L446.5,303.0 L449.3,313.3 L470.8,323.6 L504.6,333.8 L525.2,344.1 L533.8,354.4 L539.4,364.7 L544.4,374.9 L552.3,385.2 L561.9,395.5 L572.2,405.8 L582.6,416.1 L592.9,426.3 L602.7,436.6 L608.3,446.9 L610.4,457.1 L610.0,467.4 L610.0,477.7" stroke="#000000"/>
<path d="M610.0,464.6 V478" stroke="#000000" stroke-width="5.4"/>
</g>
<rect x="265.4" y="38.2" width="194.2" height="182.4" fill="#fff" stroke="#000" stroke-width="1.4"/>
<path d="M278,62.00 H335.2" stroke="#ff0000" stroke-width="3.3" fill="none"/>
<text transform="translate(348.60,69.40) scale(1,1.04)"><tspan class="sy">κ</tspan><tspan class="s" dy="5.29">1</tspan><tspan dy="-5.29">/</tspan><tspan class="sy">κ</tspan><tspan class="s" dy="5.29">2</tspan><tspan dy="-5.29">=1</tspan></text>
<path d="M278,89.06 H335.2" stroke="#00ff00" stroke-width="3.3" fill="none"/>
<text transform="translate(348.60,96.46) scale(1,1.04)"><tspan class="sy">κ</tspan><tspan class="s" dy="5.29">1</tspan><tspan dy="-5.29">/</tspan><tspan class="sy">κ</tspan><tspan class="s" dy="5.29">2</tspan><tspan dy="-5.29">=10</tspan></text>
<path d="M278,116.12 H335.2" stroke="#0000ff" stroke-width="3.3" fill="none"/>
<text transform="translate(348.60,123.52) scale(1,1.04)"><tspan class="sy">κ</tspan><tspan class="s" dy="5.29">1</tspan><tspan dy="-5.29">/</tspan><tspan class="sy">κ</tspan><tspan class="s" dy="5.29">2</tspan><tspan dy="-5.29">=10</tspan><tspan class="s" dy="-10.29" dx="0.6">2</tspan></text>
<path d="M278,143.18 H335.2" stroke="#c080ff" stroke-width="3.3" fill="none"/>
<text transform="translate(348.60,150.58) scale(1,1.04)"><tspan class="sy">κ</tspan><tspan class="s" dy="5.29">1</tspan><tspan dy="-5.29">/</tspan><tspan class="sy">κ</tspan><tspan class="s" dy="5.29">2</tspan><tspan dy="-5.29">=10</tspan><tspan class="s" dy="-10.29" dx="0.6">3</tspan></text>
<path d="M278,170.24 H335.2" stroke="#ffff00" stroke-width="3.3" fill="none"/>
<text transform="translate(348.60,177.64) scale(1,1.04)"><tspan class="sy">κ</tspan><tspan class="s" dy="5.29">1</tspan><tspan dy="-5.29">/</tspan><tspan class="sy">κ</tspan><tspan class="s" dy="5.29">2</tspan><tspan dy="-5.29">=10</tspan><tspan class="s" dy="-10.29" dx="0.6">4</tspan></text>
<path d="M278,197.30 H335.2" stroke="#000000" stroke-width="3.3" fill="none"/>
<text transform="translate(348.60,204.70) scale(1,1.04)"><tspan class="sy">κ</tspan><tspan class="s" dy="5.29">1</tspan><tspan dy="-5.29">/</tspan><tspan class="sy">κ</tspan><tspan class="s" dy="5.29">2</tspan><tspan dy="-5.29">=10</tspan><tspan class="s" dy="-10.29" dx="0.6">5</tspan></text>
<rect x="282.2" y="343.6" width="206.7" height="74.4" fill="#fff" stroke="#000" stroke-width="1.4"/>
<path d="M294.3,367.4 H351.8" stroke="#000" stroke-width="3.3" stroke-dasharray="9.7 4.2" fill="none"/>
<path d="M294.3,394.4 H351.8" stroke="#000" stroke-width="3.3" fill="none"/>
<text transform="translate(365.00,374.90) scale(1,1.04)">Numerical</text>
<text transform="translate(365.00,402.10) scale(1,1.04)">Analytical</text>
<text transform="translate(91.40,34.00) scale(1,1.04)" text-anchor="end">10<tspan class="s" dy="-9.42">-6</tspan></text>
<text transform="translate(91.40,124.42) scale(1,1.04)" text-anchor="end">10<tspan class="s" dy="-9.42">-4</tspan></text>
<text transform="translate(91.40,214.84) scale(1,1.04)" text-anchor="end">10<tspan class="s" dy="-9.42">-2</tspan></text>
<text transform="translate(91.40,305.26) scale(1,1.04)" text-anchor="end">10<tspan class="s" dy="-9.42">0</tspan></text>
<text transform="translate(91.40,395.68) scale(1,1.04)" text-anchor="end">10<tspan class="s" dy="-9.42">2</tspan></text>
<text transform="translate(91.40,486.10) scale(1,1.04)" text-anchor="end">10<tspan class="s" dy="-9.42">4</tspan></text>
<text transform="translate(106.65,504.90) scale(1,1.04)" text-anchor="middle">0</text>
<text transform="translate(151.18,504.90) scale(1,1.04)" text-anchor="middle">0.5</text>
<text transform="translate(195.70,504.90) scale(1,1.04)" text-anchor="middle">1</text>
<text transform="translate(240.22,504.90) scale(1,1.04)" text-anchor="middle">1.5</text>
<text transform="translate(284.75,504.90) scale(1,1.04)" text-anchor="middle">2</text>
<text transform="translate(329.28,504.90) scale(1,1.04)" text-anchor="middle">2.5</text>
<text transform="translate(373.80,504.90) scale(1,1.04)" text-anchor="middle">3</text>
<text transform="translate(480.51,504.90) scale(1,1.04)" text-anchor="middle">-4</text>
<text transform="translate(549.23,504.90) scale(1,1.04)" text-anchor="middle">-2</text>
<text transform="translate(620.65,504.90) scale(1,1.04)" text-anchor="middle">0</text>
<text transform="translate(689.37,504.90) scale(1,1.04)" text-anchor="middle">2</text>
<text transform="translate(758.09,504.90) scale(1,1.04)" text-anchor="middle">4</text>
<text transform="translate(234.80,533.80) scale(1,1.04)">T/T<tspan class="s" dy="5.96">eff</tspan></text>
<text transform="translate(521.00,533.80) scale(1,1.04)">T<tspan class="s" dy="5.96">a</tspan><tspan dy="-5.96"> / T</tspan><tspan class="s" dy="5.96">n</tspan><tspan dy="-5.96"> - 1 (%)</tspan></text>
<text transform="translate(37.90,251.00) rotate(-90) scale(1,1.04)" text-anchor="middle">Optical depth <tspan class="sy" dx="2">τ</tspan></text>
</svg></body></html>
